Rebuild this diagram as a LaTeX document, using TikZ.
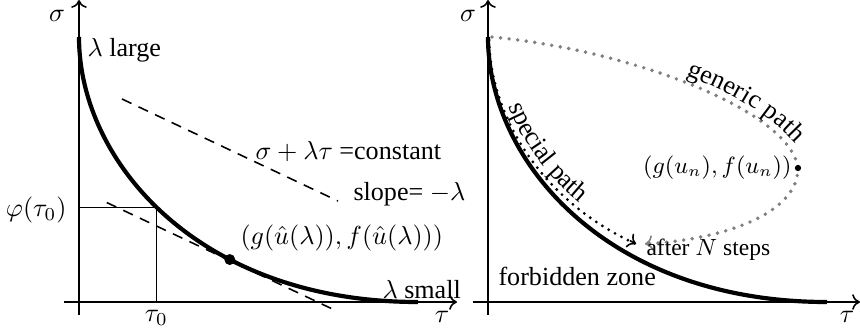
\documentclass[tikz,border=0pt]{standalone}
\usepackage{fontspec}
\setmainfont{Liberation Serif}
\usetikzlibrary{calc,decorations.text,arrows.meta}
\begin{document}
\begin{tikzpicture}[x=0.383pt,y=-0.383pt,
  axis/.style={line width=0.6pt,-{To[length=3pt,width=6pt]}},
  bigcurve/.style={line width=1.6pt},
  thinline/.style={line width=0.4pt},
  dashline/.style={line width=0.6pt,dash pattern=on 4pt off 3pt},
  bigdot/.style={circle,fill=black,inner sep=0pt,minimum size=4.2pt},
  smalldot/.style={circle,fill=black,inner sep=0pt,minimum size=2.4pt},
  lbl/.style={inner sep=0pt},
  specialpath/.style={line width=1.2pt,dash pattern=on 0pt off 2.8pt,line cap=round},
  genericpath/.style={gray,line width=1.5pt,dash pattern=on 0pt off 3.3pt,line cap=round},
]
\useasboundingbox (0,0) rectangle (860,330);

% ---------------- left panel ----------------
\coordinate (LO) at (79,302);
\coordinate (Lbot) at (79,315);
\coordinate (Ltop) at (79,0);
\coordinate (Lxl) at (64,302);
\coordinate (Lxr) at (457,302);
\draw[axis] (Lbot) -- (Ltop);
\draw[axis] (Lxl) -- (Lxr);
\node[lbl] (sigL) at (57,16) {$\sigma$};
\node[lbl] (tauL) at (442,317) {$\tau$};

\draw[bigcurve] (79,37) .. controls (79,162) and (199,302) .. (418,302)
  coordinate[pos=0.47] (T0) coordinate[pos=0.66] (P);
\draw[thinline] (T0 -| LO) -- (T0) -- (T0 |- LO);

\coordinate (C1) at (122,99);
\coordinate (C2) at (338,201);
\draw[dashline] (C1) -- (C2);
\coordinate (D1) at ($(P)+(-123,-57)$);
\coordinate (D2) at ($(P)+(108,52)$);
\draw[dashline] (D1) -- (D2);
\node[bigdot] (Pdot) at (P) {};

\node[lbl,anchor=west] (large) at (87,50) {$\lambda$ large};
\node[lbl,anchor=east] (phi) at (67,210) {$\varphi(\tau_0)$};
\node[lbl] (tau0) at ($(T0 |- LO)+(0,16)$) {$\tau_0$};
\node[lbl,anchor=west] (const) at (255,152) {$\sigma+\lambda\tau$ =constant};
\node[lbl,anchor=west] (slope) at (353,194) {slope= $-\lambda$};
\node[lbl,anchor=west] (gu) at (240,238) {$(g(\hat u(\lambda)), f(\hat u(\lambda)))$};
\node[lbl,anchor=west] (small) at (382,290) {$\lambda$ small};

% ---------------- right panel ----------------
\coordinate (RO) at (488,302);
\coordinate (Rbot) at (488,315);
\coordinate (Rtop) at (488,0);
\coordinate (Rxl) at (473,302);
\coordinate (Rxr) at (860,302);
\draw[axis] (Rbot) -- (Rtop);
\draw[axis] (Rxl) -- (Rxr);
\node[lbl] (sigR) at (468,16) {$\sigma$};
\node[lbl] (tauR) at (847,317) {$\tau$};

\draw[bigcurve] (488,37) .. controls (488,162) and (608,302) .. (827,302);

\coordinate (S0) at (489,40);
\coordinate (S1) at (636,244);
\draw[specialpath] (S0) .. controls (491,118) and (542,201) .. (S1);
\draw[-{To[length=3pt,width=6pt,line width=0.6pt]},line width=0.6pt] (630,240.6) -- (S1);
\path[decorate,decoration={text along path,text={special path},text align=center,raise=2.2pt}]
  (S0) .. controls (491,118) and (542,201) .. (S1);

\coordinate (G0) at (492,37);
\coordinate (Un) at (798,168);
\coordinate (G1) at (645,244);
\draw[genericpath] (G0) .. controls (630,50) and (790,110) .. (Un)
  .. controls (798,215) and (720,240) .. (G1);
\draw[gray,-{To[length=3pt,width=6pt,line width=0.6pt]},line width=0.6pt] (651,243.2) -- (G1);
\path[decorate,decoration={text along path,text={generic path},text align=center,raise=1.5pt}]
  (675,75) .. controls (715,90) and (765,112) .. (800,155);

\node[smalldot] (UnDot) at (Un) {};
\node[lbl,anchor=east,font=\small] (unlab) at (792,168) {$(g(u_n), f(u_n))$};
\node[lbl,anchor=west,font=\small] (after) at (646,250) {after $N$ steps};
\node[lbl,anchor=west] (fz) at (498,276) {forbidden zone};
\end{tikzpicture}
\end{document}
